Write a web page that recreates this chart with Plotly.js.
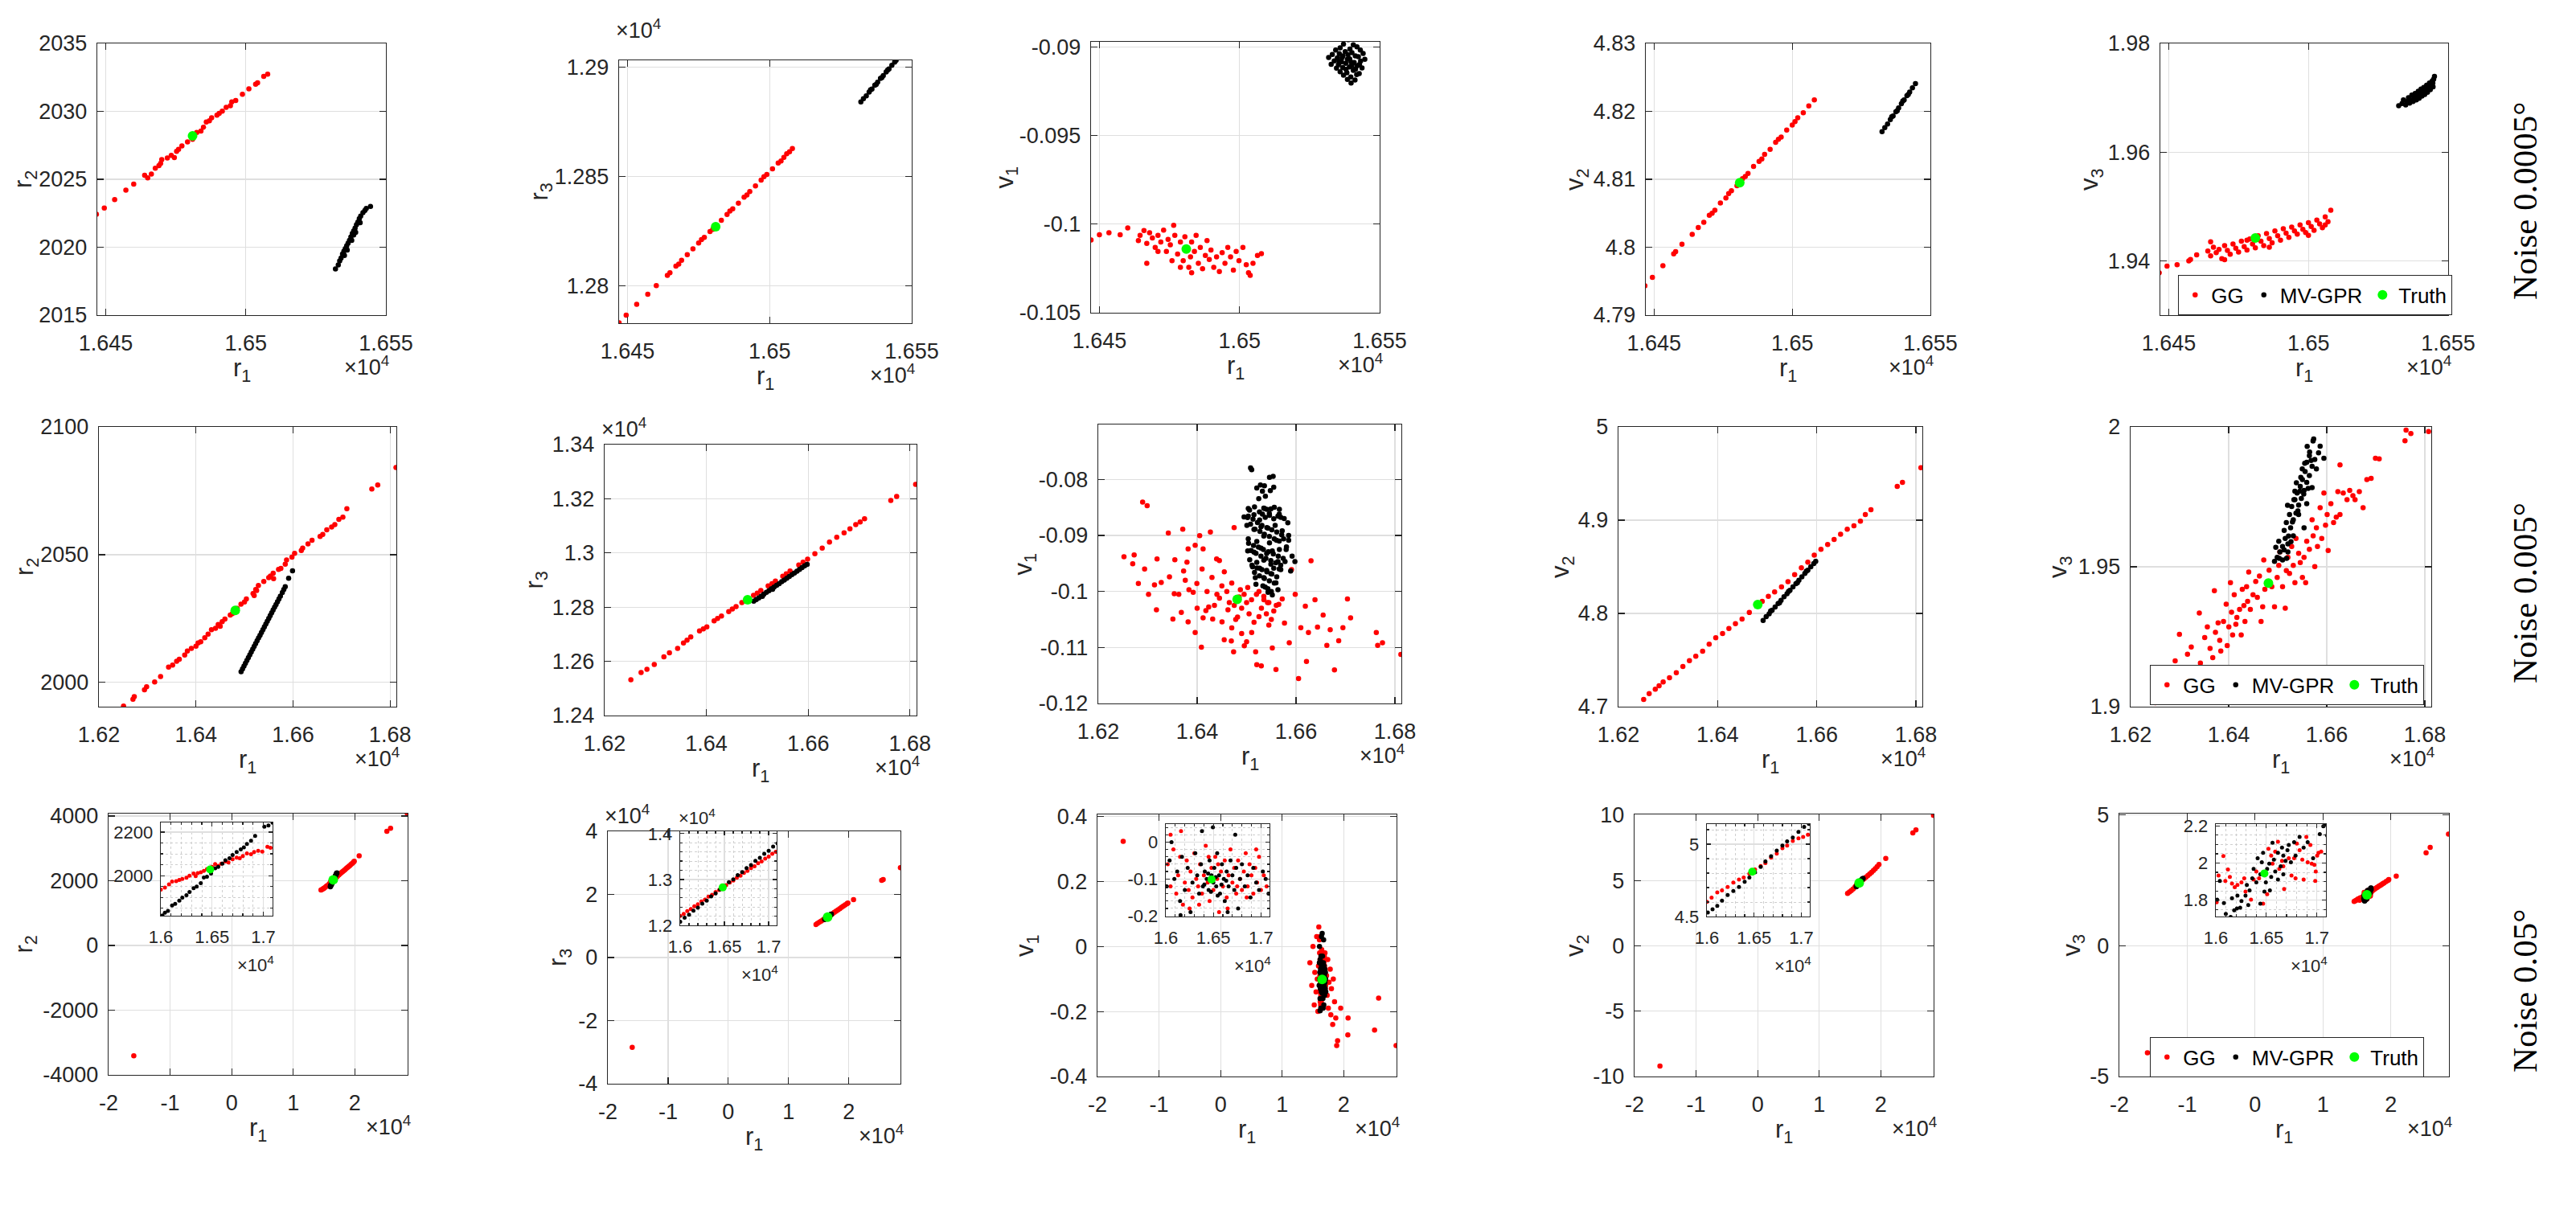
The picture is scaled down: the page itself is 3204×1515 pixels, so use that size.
<!DOCTYPE html>
<html><head><meta charset="utf-8">
<script src="https://cdn.plot.ly/plotly-3.0.1.min.js"></script>
<style>html,body{margin:0;padding:0;background:#fff;}#chart{width:3204px;height:1515px;}</style>
</head><body><div id="chart"></div>
<script>
// ================= DATA =================
const series_names = ['GG', 'MV-GPR', 'Truth'];
const row_labels = ['Noise 0.0005°', 'Noise 0.005°', 'Noise 0.05°'];
const y_titles = ['r<sub>2</sub>', 'r<sub>3</sub>', 'v<sub>1</sub>', 'v<sub>2</sub>', 'v<sub>3</sub>'];
const x_title = 'r<sub>1</sub>';
const exp_label = '×10<sup>4</sup>';

// true state (r1, r3 in units of 1e4)
const truth_r1 = 1.6481, truth_r2 = 2028.2, truth_r3 = 1.2827, truth_v1 = -0.1014, truth_v2 = 4.8095, truth_v3 = 1.9442;

// tick values / labels
const row1_xt = [1.645, 1.65, 1.655], row1_xl = ['1.645', '1.65', '1.655'];
const row2_xt = [1.62, 1.64, 1.66, 1.68], row2_xl = ['1.62', '1.64', '1.66', '1.68'];
const row3_xt = [-2, -1, 0, 1, 2], row3_xl = ['-2', '-1', '0', '1', '2'];
const inset_xt = [1.6, 1.65, 1.7], inset_xl = ['1.6', '1.65', '1.7'];
const p11_yt = [2015, 2020, 2025, 2030, 2035], p11_yl = ['2015', '2020', '2025', '2030', '2035'];
const p12_yt = [1.28, 1.285, 1.29], p12_yl = ['1.28', '1.285', '1.29'];
const p13_yt = [-0.105, -0.1, -0.095, -0.09], p13_yl = ['-0.105', '-0.1', '-0.095', '-0.09'];
const p14_yt = [4.79, 4.8, 4.81, 4.82, 4.83], p14_yl = ['4.79', '4.8', '4.81', '4.82', '4.83'];
const p15_yt = [1.94, 1.96, 1.98], p15_yl = ['1.94', '1.96', '1.98'];
const p21_yt = [2000, 2050, 2100], p21_yl = ['2000', '2050', '2100'];
const p22_yt = [1.24, 1.26, 1.28, 1.3, 1.32, 1.34], p22_yl = ['1.24', '1.26', '1.28', '1.3', '1.32', '1.34'];
const p23_yt = [-0.12, -0.11, -0.1, -0.09, -0.08], p23_yl = ['-0.12', '-0.11', '-0.1', '-0.09', '-0.08'];
const p24_yt = [4.7, 4.8, 4.9, 5], p24_yl = ['4.7', '4.8', '4.9', '5'];
const p25_yt = [1.9, 1.95, 2], p25_yl = ['1.9', '1.95', '2'];
const p31_yt = [-4000, -2000, 0, 2000, 4000], p31_yl = ['-4000', '-2000', '0', '2000', '4000'];
const p32_yt = [-4, -2, 0, 2, 4], p32_yl = ['-4', '-2', '0', '2', '4'];
const p33_yt = [-0.4, -0.2, 0, 0.2, 0.4], p33_yl = ['-0.4', '-0.2', '0', '0.2', '0.4'];
const p34_yt = [-10, -5, 0, 5, 10], p34_yl = ['-10', '-5', '0', '5', '10'];
const p35_yt = [-5, 0, 5], p35_yl = ['-5', '0', '5'];
const i31_yt = [2000, 2200], i31_yl = ['2000', '2200'];
const i32_yt = [1.2, 1.3, 1.4], i32_yl = ['1.2', '1.3', '1.4'];
const i33_yt = [-0.2, -0.1, 0], i33_yl = ['-0.2', '-0.1', '0'];
const i34_yt = [4.5, 5], i34_yl = ['4.5', '5'];
const i35_yt = [1.8, 2, 2.2], i35_yl = ['1.8', '2', '2.2'];

// ---- Row 1 : noise 0.0005 deg ----
const p11_gg = [[1.64467,2022.43],[1.64495,2022.88],[1.64532,2023.51],[1.64572,2024.20],[1.64600,2024.64],[1.64639,2025.29],[1.64663,2025.38],[1.64650,2025.10],[1.64677,2025.82],[1.64696,2026.17],[1.64700,2026.45],[1.64690,2026.00],[1.64720,2026.57],[1.64734,2026.76],[1.64745,2026.60],[1.64753,2027.06],[1.64760,2027.20],[1.64772,2027.45],[1.64792,2027.75],[1.64810,2027.95],[1.64825,2028.44],[1.64840,2028.55],[1.64849,2028.83],[1.64859,2029.22],[1.64870,2029.30],[1.64878,2029.52],[1.64897,2029.72],[1.64905,2029.85],[1.64916,2030.01],[1.64930,2030.30],[1.64945,2030.41],[1.64950,2030.70],[1.64964,2030.80],[1.64988,2031.26],[1.65011,2031.65],[1.65035,2031.99],[1.65042,2032.10],[1.65064,2032.58],[1.65078,2032.73]];
const p11_mv = [[1.65320,2018.40],[1.65330,2018.70],[1.65335,2019.00],[1.65340,2019.20],[1.65345,2019.50],[1.65350,2019.70],[1.65352,2019.40],[1.65355,2019.90],[1.65360,2020.10],[1.65362,2019.80],[1.65365,2020.30],[1.65370,2020.50],[1.65375,2020.75],[1.65378,2020.50],[1.65380,2021.00],[1.65385,2021.20],[1.65385,2020.90],[1.65390,2021.40],[1.65392,2021.10],[1.65395,2021.65],[1.65400,2021.85],[1.65405,2022.10],[1.65408,2021.80],[1.65410,2022.30],[1.65418,2022.55],[1.65425,2022.70],[1.65430,2022.85],[1.65445,2023.00]];

const p12_gg = [[1.64470,1.27832],[1.64495,1.27867],[1.64532,1.27916],[1.64571,1.27962],[1.64601,1.28002],[1.64640,1.28048],[1.64649,1.28060],[1.6467,1.28091],[1.6468,1.28100],[1.6469,1.28117],[1.6471,1.28143],[1.6473,1.28169],[1.6475,1.28196],[1.6476,1.28212],[1.6477,1.28222],[1.6479,1.28248],[1.6480,1.28258],[1.6481,1.28274],[1.6483,1.28300],[1.6485,1.28326],[1.6486,1.28342],[1.6487,1.28352],[1.6489,1.28378],[1.6491,1.28405],[1.6492,1.28415],[1.6493,1.28431],[1.6495,1.28457],[1.6497,1.28483],[1.6498,1.28499],[1.6499,1.28509],[1.6501,1.28535],[1.6503,1.28561],[1.6504,1.28570],[1.6505,1.28587],[1.6506,1.28603],[1.6507,1.28613],[1.6508,1.28627]];
const p12_mv = [[1.65321,1.28840],[1.65330,1.28855],[1.65340,1.28868],[1.65350,1.28885],[1.65355,1.28895],[1.65360,1.28899],[1.65370,1.28916],[1.65375,1.28920],[1.65380,1.28930],[1.65390,1.28947],[1.65395,1.28951],[1.65400,1.28960],[1.65410,1.28977],[1.65415,1.28985],[1.65420,1.28991],[1.65430,1.29007],[1.65440,1.29022],[1.65445,1.29030]];

const p13_gg = [[1.64470,-0.10089],[1.64500,-0.10060],[1.64534,-0.10048],[1.64574,-0.10060],[1.64601,-0.10021],[1.64639,-0.10093],[1.64645,-0.10063],[1.64659,-0.10036],[1.64669,-0.10108],[1.64679,-0.10048],[1.64689,-0.10078],[1.64699,-0.10131],[1.64709,-0.10063],[1.64719,-0.10101],[1.64729,-0.10033],[1.64739,-0.10154],[1.64745,-0.10086],[1.64753,-0.10116],[1.64765,-0.10006],[1.64769,-0.10063],[1.64779,-0.10169],[1.64789,-0.10101],[1.64799,-0.10206],[1.64805,-0.10071],[1.64813,-0.10139],[1.64819,-0.10244],[1.64825,-0.10184],[1.64829,-0.10101],[1.64839,-0.10154],[1.64845,-0.10063],[1.64853,-0.10221],[1.64860,-0.10131],[1.64868,-0.10251],[1.64878,-0.10176],[1.64884,-0.10093],[1.64892,-0.10199],[1.64898,-0.10146],[1.64908,-0.10244],[1.64918,-0.10184],[1.64928,-0.10267],[1.64938,-0.10161],[1.64948,-0.10221],[1.64958,-0.10131],[1.64968,-0.10184],[1.64978,-0.10259],[1.64988,-0.10154],[1.64998,-0.10206],[1.65012,-0.10131],[1.65024,-0.10229],[1.65032,-0.10274],[1.65038,-0.10289],[1.65048,-0.10221],[1.65064,-0.10176],[1.65078,-0.10166],[1.64669,-0.10221],[1.64709,-0.10154],[1.64759,-0.10206],[1.64789,-0.10244],[1.64829,-0.10274]];
const p13_mv = [[1.65388,-0.08958],[1.65371,-0.08983],[1.65406,-0.08987],[1.65359,-0.09004],[1.65394,-0.09011],[1.65419,-0.08998],[1.65343,-0.09016],[1.65377,-0.09026],[1.65401,-0.09031],[1.65431,-0.09017],[1.65331,-0.09041],[1.65356,-0.09037],[1.65387,-0.09043],[1.65413,-0.09049],[1.65441,-0.09036],[1.65318,-0.09058],[1.65349,-0.09061],[1.65369,-0.09049],[1.65393,-0.09066],[1.65424,-0.09054],[1.65447,-0.09069],[1.65338,-0.09078],[1.65364,-0.09083],[1.65385,-0.09069],[1.65409,-0.09087],[1.65432,-0.09079],[1.65327,-0.09097],[1.65353,-0.09099],[1.65379,-0.09092],[1.65401,-0.09105],[1.65428,-0.09098],[1.65346,-0.09119],[1.65368,-0.09115],[1.65392,-0.09112],[1.65414,-0.09124],[1.65437,-0.09118],[1.65359,-0.09139],[1.65383,-0.09145],[1.65406,-0.09131],[1.65427,-0.09149],[1.65371,-0.09158],[1.65397,-0.09169],[1.65418,-0.09155],[1.65385,-0.09182],[1.65412,-0.09186],[1.65398,-0.09203],[1.65366,-0.09060],[1.65398,-0.09085],[1.65380,-0.09125],[1.65420,-0.09105],[1.65355,-0.09080]];

const p14_gg = [[1.64467,4.79433],[1.64494,4.79556],[1.64532,4.79729],[1.64571,4.79902],[1.64578,4.79934],[1.64601,4.80045],[1.64638,4.80190],[1.6466,4.80290],[1.6468,4.80368],[1.6470,4.80470],[1.6471,4.80500],[1.6472,4.80545],[1.6474,4.80650],[1.6476,4.80725],[1.6477,4.80790],[1.6478,4.80830],[1.6480,4.80905],[1.6482,4.81010],[1.6483,4.81040],[1.6484,4.81085],[1.6486,4.81188],[1.6488,4.81262],[1.6489,4.81300],[1.6490,4.81368],[1.6492,4.81440],[1.6494,4.81545],[1.6495,4.81590],[1.6496,4.81620],[1.6498,4.81725],[1.6500,4.81800],[1.6501,4.81850],[1.6502,4.81905],[1.6504,4.81980],[1.6506,4.82080],[1.6508,4.82170]];
const p14_mv = [[1.65325,4.81700],[1.65335,4.81760],[1.65345,4.81815],[1.65355,4.81878],[1.65360,4.81920],[1.65365,4.81932],[1.65375,4.81995],[1.65380,4.82010],[1.65385,4.82050],[1.65395,4.82112],[1.65400,4.82150],[1.65405,4.82168],[1.65415,4.82230],[1.65420,4.82250],[1.65425,4.82285],[1.65435,4.82345],[1.65446,4.82409]];

const p15_gg = [[1.64466,1.93779],[1.64494,1.93902],[1.64530,1.93927],[1.64572,1.94000],[1.64578,1.94025],[1.64600,1.94109],[1.6464,1.9418],[1.6465,1.9409],[1.6465,1.9435],[1.6466,1.9425],[1.6467,1.9415],[1.6468,1.9421],[1.6469,1.9404],[1.6470,1.9428],[1.6470,1.9402],[1.6471,1.9419],[1.6472,1.9412],[1.6473,1.9431],[1.6474,1.9423],[1.6475,1.9416],[1.6476,1.9436],[1.6477,1.9426],[1.6478,1.9420],[1.6478,1.9438],[1.6479,1.9440],[1.6480,1.9431],[1.6481,1.9424],[1.6482,1.9446],[1.6483,1.9436],[1.6484,1.9428],[1.6485,1.9450],[1.6486,1.9441],[1.6486,1.9425],[1.6487,1.9433],[1.6488,1.9455],[1.6489,1.9446],[1.6490,1.9438],[1.6491,1.9459],[1.6492,1.9451],[1.6493,1.9443],[1.6494,1.9462],[1.6495,1.9455],[1.6496,1.9449],[1.6497,1.9466],[1.6498,1.9458],[1.6499,1.9452],[1.6500,1.9470],[1.6500,1.9447],[1.6501,1.9463],[1.6502,1.9456],[1.6503,1.9475],[1.6504,1.9468],[1.6505,1.9461],[1.6506,1.9481],[1.6506,1.9466],[1.6507,1.9472],[1.6508,1.9493]];
const p15_mv = [[1.65323,1.96854],[1.65335,1.96895],[1.65340,1.96960],[1.65348,1.96870],[1.65352,1.96930],[1.65358,1.97000],[1.65360,1.96960],[1.65362,1.96900],[1.65366,1.96960],[1.65370,1.97050],[1.65374,1.96930],[1.65378,1.97000],[1.65380,1.96960],[1.65382,1.97080],[1.65386,1.96960],[1.65390,1.97040],[1.65393,1.97120],[1.65396,1.96990],[1.65398,1.97040],[1.65400,1.97070],[1.65403,1.97160],[1.65406,1.97030],[1.65408,1.97080],[1.65410,1.97110],[1.65413,1.97190],[1.65415,1.97130],[1.65416,1.97060],[1.65420,1.97150],[1.65423,1.97230],[1.65426,1.97100],[1.65428,1.97160],[1.65430,1.97190],[1.65433,1.97270],[1.65436,1.97150],[1.65440,1.97230],[1.65443,1.97310],[1.65445,1.97270],[1.65446,1.97200],[1.65448,1.97340],[1.65451,1.97395]];

// ---- Row 2 : noise 0.005 deg ----
const p21_gg = [[1.62508,1990.7],[1.62702,1993.4],[1.62729,1994.4],[1.62939,1997.1],[1.62983,1998.3],[1.63149,2000.2],[1.63271,2002.3],[1.63436,2006.0],[1.63519,2006.8],[1.63602,2008.3],[1.63657,2009.1],[1.63768,2010.7],[1.63823,2012.3],[1.63906,2013.3],[1.64000,2014.2],[1.64044,2015.4],[1.64099,2015.9],[1.64182,2017.5],[1.64250,2018.9],[1.64320,2020.6],[1.64403,2021.2],[1.64459,2022.7],[1.64500,2022.0],[1.64541,2023.8],[1.64597,2024.8],[1.64707,2026.4],[1.64750,2026.9],[1.64850,2029.0],[1.64928,2030.6],[1.65000,2031.5],[1.65039,2032.7],[1.65177,2034.8],[1.65200,2034.0],[1.65232,2036.4],[1.65250,2036.0],[1.65287,2037.9],[1.65398,2039.5],[1.65500,2041.0],[1.65536,2041.6],[1.65591,2042.7],[1.65600,2040.6],[1.65702,2044.2],[1.65750,2044.6],[1.65840,2046.3],[1.65867,2047.9],[1.65978,2049.0],[1.66033,2050.5],[1.66171,2051.6],[1.66199,2052.6],[1.66309,2054.2],[1.66392,2055.6],[1.66558,2057.1],[1.66613,2057.9],[1.66696,2059.7],[1.66796,2060.8],[1.66862,2061.8],[1.66945,2063.8],[1.67028,2064.7],[1.67110,2068.0],[1.67624,2075.7],[1.67746,2077.3],[1.68122,2084.1]];
const p21_mv = [[1.6493,2004.2],[1.6496,2005.3],[1.6499,2006.4],[1.6502,2007.5],[1.6505,2008.6],[1.6508,2009.7],[1.6511,2010.8],[1.6514,2011.9],[1.6517,2013.0],[1.6520,2014.1],[1.6523,2015.2],[1.6526,2016.3],[1.6529,2017.4],[1.6532,2018.4],[1.6535,2019.5],[1.6538,2020.6],[1.6541,2021.7],[1.6544,2022.8],[1.6547,2023.9],[1.6550,2025.0],[1.6553,2026.1],[1.6556,2027.2],[1.6559,2028.3],[1.6562,2029.4],[1.6565,2030.5],[1.6568,2031.6],[1.6571,2032.7],[1.6574,2033.8],[1.6578,2035.2],[1.6581,2036.4],[1.6584,2037.5],[1.6591,2040.8],[1.6599,2043.7]];

const p22_gg = [[1.62516,1.25320],[1.62717,1.25587],[1.62832,1.25706],[1.62976,1.25885],[1.63165,1.26163],[1.63274,1.26312],[1.63435,1.26480],[1.63550,1.26679],[1.63620,1.26780],[1.63693,1.26897],[1.63865,1.27125],[1.63940,1.27200],[1.64009,1.27274],[1.64152,1.27492],[1.64220,1.27580],[1.64296,1.27671],[1.64439,1.27839],[1.64510,1.27930],[1.64583,1.28018],[1.64697,1.28167],[1.64801,1.28286],[1.64927,1.28435],[1.65000,1.28520],[1.65070,1.28613],[1.65214,1.28782],[1.65290,1.28870],[1.65357,1.28960],[1.65501,1.29139],[1.65570,1.29230],[1.65644,1.29337],[1.65816,1.29556],[1.65900,1.29660],[1.65989,1.29774],[1.66132,1.29972],[1.66276,1.30181],[1.66419,1.30399],[1.66562,1.30577],[1.66706,1.30746],[1.66821,1.30895],[1.66935,1.31044],[1.67022,1.31143],[1.67108,1.31262],[1.67624,1.31937],[1.67739,1.32085],[1.68112,1.32532]];
const p22_mv = [[1.6493,1.2822],[1.6498,1.2828],[1.6503,1.2834],[1.6508,1.2841],[1.6510,1.2840],[1.6513,1.2848],[1.6518,1.2855],[1.6523,1.2861],[1.6528,1.2868],[1.6530,1.2866],[1.6533,1.2874],[1.6538,1.2881],[1.6543,1.2887],[1.6548,1.2894],[1.6553,1.2900],[1.6558,1.2907],[1.6563,1.2913],[1.6568,1.2920],[1.6573,1.2926],[1.6578,1.2933],[1.6583,1.2939],[1.6588,1.2946],[1.6593,1.2953],[1.6598,1.2958]];

const p23_gg = [[1.62520,-0.09380],[1.62726,-0.09347],[1.62697,-0.09505],[1.62811,-0.09859],[1.62897,-0.08406],[1.62989,-0.08468],[1.62937,-0.09601],[1.63017,-0.10050],[1.63137,-0.09883],[1.63177,-0.10327],[1.63189,-0.09419],[1.63274,-0.09840],[1.63417,-0.08956],[1.63440,-0.09739],[1.63509,-0.10494],[1.63537,-0.10040],[1.63549,-0.09433],[1.63629,-0.10050],[1.63680,-0.10375],[1.63709,-0.08889],[1.63726,-0.09634],[1.63760,-0.09801],[1.63794,-0.09476],[1.63817,-0.09242],[1.63817,-0.10542],[1.63834,-0.09969],[1.63920,-0.10016],[1.63960,-0.10733],[1.63960,-0.09175],[1.63994,-0.09859],[1.64000,-0.10300],[1.64051,-0.09003],[1.64086,-0.10996],[1.64100,-0.09600],[1.64120,-0.09242],[1.64120,-0.10470],[1.64177,-0.10341],[1.64200,-0.10000],[1.64234,-0.10279],[1.64268,-0.08941],[1.64300,-0.09750],[1.64314,-0.10494],[1.64350,-0.10250],[1.64394,-0.09419],[1.64400,-0.10050],[1.64450,-0.09450],[1.64451,-0.10121],[1.64500,-0.09900],[1.64503,-0.10542],[1.64548,-0.10862],[1.64550,-0.09650],[1.64600,-0.10000],[1.64623,-0.10327],[1.64650,-0.10200],[1.64691,-0.10885],[1.64700,-0.09850],[1.64700,-0.10650],[1.64737,-0.11077],[1.64748,-0.08860],[1.64750,-0.10250],[1.64780,-0.10500],[1.64817,-0.10456],[1.64850,-0.10100],[1.64874,-0.09969],[1.64900,-0.10300],[1.64900,-0.10750],[1.64950,-0.10050],[1.64954,-0.10972],[1.65000,-0.10200],[1.65000,-0.10900],[1.65023,-0.09930],[1.65050,-0.10400],[1.65100,-0.10150],[1.65103,-0.10733],[1.65150,-0.10550],[1.65183,-0.11077],[1.65200,-0.10050],[1.65206,-0.11306],[1.65250,-0.10450],[1.65250,-0.10000],[1.65297,-0.11330],[1.65300,-0.10300],[1.65348,-0.10088],[1.65350,-0.10150],[1.65400,-0.10400],[1.65423,-0.10198],[1.65450,-0.10200],[1.65450,-0.10600],[1.65500,-0.10500],[1.65520,-0.11010],[1.65550,-0.10350],[1.65594,-0.11392],[1.65600,-0.10250],[1.65651,-0.10231],[1.65720,-0.10136],[1.65766,-0.10566],[1.65863,-0.10915],[1.65908,-0.09610],[1.65983,-0.10050],[1.66051,-0.11555],[1.66097,-0.10647],[1.66188,-0.10265],[1.66211,-0.11249],[1.66251,-0.10733],[1.66303,-0.09453],[1.66383,-0.10150],[1.66434,-0.10638],[1.66548,-0.10422],[1.66623,-0.10962],[1.66691,-0.10685],[1.66777,-0.11402],[1.66863,-0.10881],[1.66948,-0.10647],[1.67040,-0.10136],[1.67103,-0.10470],[1.67623,-0.10733],[1.67651,-0.10962],[1.67748,-0.10915],[1.68120,-0.11125]];
const p23_mv = [[1.65080,-0.07795],[1.65103,-0.07828],[1.65463,-0.07962],[1.65537,-0.07947],[1.65549,-0.08139],[1.65206,-0.08153],[1.65320,-0.08210],[1.65360,-0.08115],[1.65280,-0.08100],[1.65380,-0.08300],[1.65480,-0.08200],[1.65034,-0.08521],[1.65246,-0.08344],[1.65348,-0.08511],[1.65406,-0.08535],[1.65491,-0.08526],[1.65663,-0.08535],[1.6506,-0.0855],[1.6516,-0.0849],[1.6526,-0.0858],[1.6536,-0.0852],[1.6546,-0.0861],[1.6556,-0.0850],[1.6566,-0.0862],[1.6576,-0.0870],[1.64949,-0.08669],[1.65034,-0.08655],[1.65149,-0.08631],[1.65263,-0.08726],[1.65320,-0.08621],[1.65377,-0.08678],[1.65463,-0.08640],[1.65549,-0.08702],[1.65634,-0.08655],[1.65691,-0.08678],[1.65834,-0.08774],[1.6502,-0.0868],[1.6508,-0.0880],[1.6513,-0.0871],[1.6517,-0.0889],[1.6522,-0.0877],[1.6527,-0.0893],[1.6531,-0.0882],[1.6536,-0.0898],[1.6541,-0.0886],[1.6546,-0.0902],[1.6551,-0.0890],[1.6556,-0.0906],[1.6561,-0.0894],[1.6566,-0.0910],[1.6571,-0.0899],[1.65006,-0.08822],[1.65149,-0.08894],[1.65291,-0.08846],[1.65434,-0.08870],[1.65577,-0.08822],[1.65720,-0.08917],[1.65034,-0.09061],[1.65206,-0.09109],[1.65348,-0.09013],[1.65463,-0.09132],[1.65606,-0.09085],[1.65749,-0.09061],[1.65851,-0.09085],[1.6504,-0.0914],[1.6509,-0.0927],[1.6514,-0.0918],[1.6519,-0.0932],[1.6524,-0.0921],[1.6529,-0.0937],[1.6534,-0.0925],[1.6539,-0.0941],[1.6544,-0.0929],[1.6549,-0.0945],[1.6554,-0.0933],[1.6559,-0.0949],[1.6564,-0.0937],[1.6569,-0.0953],[1.6574,-0.0941],[1.6580,-0.0925],[1.6585,-0.0900],[1.65023,-0.09276],[1.65149,-0.09300],[1.65291,-0.09228],[1.65406,-0.09323],[1.65520,-0.09276],[1.65663,-0.09252],[1.65806,-0.09204],[1.65920,-0.09371],[1.65063,-0.09433],[1.65206,-0.09481],[1.65348,-0.09443],[1.65491,-0.09515],[1.65634,-0.09467],[1.65777,-0.09467],[1.65977,-0.09467],[1.65120,-0.09562],[1.65263,-0.09586],[1.65406,-0.09625],[1.65549,-0.09586],[1.65691,-0.09610],[1.6511,-0.0953],[1.6516,-0.0966],[1.6521,-0.0958],[1.6526,-0.0972],[1.6531,-0.0961],[1.6536,-0.0977],[1.6541,-0.0965],[1.6546,-0.0981],[1.6551,-0.0969],[1.6556,-0.0985],[1.6561,-0.0974],[1.6566,-0.0960],[1.65177,-0.09754],[1.65348,-0.09754],[1.65491,-0.09682],[1.65594,-0.09849],[1.65891,-0.09634],[1.65189,-0.09873],[1.65377,-0.09921],[1.65434,-0.10016],[1.65520,-0.10064],[1.65634,-0.09969],[1.6543,-0.0995],[1.6533,-0.0990],[1.6550,-0.1000]];

const p24_gg = [[1.62509,4.70776],[1.62620,4.71400],[1.62743,4.71868],[1.62820,4.72250],[1.62902,4.72644],[1.63030,4.73100],[1.63167,4.73649],[1.63300,4.74300],[1.63432,4.74943],[1.63560,4.75400],[1.63698,4.75948],[1.63830,4.76700],[1.63963,4.77385],[1.64100,4.77850],[1.64228,4.78391],[1.64360,4.78900],[1.64493,4.79397],[1.64640,4.80100],[1.64790,4.80833],[1.64900,4.81300],[1.65024,4.81839],[1.65150,4.82300],[1.65289,4.82845],[1.65420,4.83400],[1.65554,4.84150],[1.65690,4.84900],[1.65820,4.85500],[1.65950,4.86250],[1.66085,4.86868],[1.66220,4.87400],[1.66350,4.87931],[1.66480,4.88500],[1.66615,4.89023],[1.66750,4.89400],[1.66881,4.89885],[1.66980,4.90600],[1.67093,4.91121],[1.67623,4.93621],[1.67729,4.94052],[1.68101,4.95632]];
const p24_mv = [[1.64918,4.79253],[1.64980,4.79650],[1.65040,4.79950],[1.65070,4.80250],[1.65100,4.80350],[1.65160,4.80680],[1.65220,4.81050],[1.65250,4.81150],[1.65280,4.81400],[1.65340,4.81780],[1.65400,4.82120],[1.65430,4.82350],[1.65460,4.82480],[1.65520,4.82850],[1.65580,4.83200],[1.65610,4.83300],[1.65640,4.83560],[1.65700,4.83920],[1.65760,4.84280],[1.65790,4.84520],[1.65820,4.84630],[1.65880,4.84990],[1.65940,4.85350],[1.65979,4.85575]];

const p25_gg = [[1.62504,1.90144],[1.62909,1.91637],[1.62996,1.92584],[1.63160,1.91876],[1.63237,1.92134],[1.63401,1.93350],[1.63423,1.91560],[1.63511,1.92469],[1.63565,1.92852],[1.63620,1.92086],[1.63675,1.91751],[1.63708,1.94144],[1.63730,1.92661],[1.63784,1.92996],[1.63817,1.92374],[1.63839,1.91991],[1.63894,1.93043],[1.63949,1.93665],[1.63970,1.92182],[1.64003,1.92852],[1.64036,1.94431],[1.64058,1.93378],[1.64080,1.92565],[1.64113,1.94000],[1.64146,1.92948],[1.64167,1.93187],[1.64222,1.93474],[1.64255,1.92565],[1.64277,1.94192],[1.64310,1.93617],[1.64332,1.93043],[1.64365,1.94287],[1.64386,1.93761],[1.64408,1.94814],[1.64441,1.93474],[1.64496,1.94000],[1.64551,1.94479],[1.64584,1.93905],[1.64627,1.94670],[1.64660,1.93043],[1.64693,1.93570],[1.64715,1.95244],[1.64737,1.94192],[1.64824,1.94881],[1.64879,1.94287],[1.64934,1.93570],[1.64989,1.94622],[1.65021,1.95053],[1.65043,1.95531],[1.65098,1.94287],[1.65153,1.93522],[1.65175,1.94861],[1.65207,1.95340],[1.65240,1.94766],[1.65284,1.95723],[1.65317,1.95053],[1.65350,1.94431],[1.65372,1.96010],[1.65426,1.95483],[1.65459,1.95149],[1.65503,1.94622],[1.65536,1.95340],[1.65569,1.94431],[1.65591,1.95914],[1.65645,1.95627],[1.65700,1.96680],[1.65722,1.96105],[1.65755,1.95005],[1.65788,1.96392],[1.65810,1.95723],[1.65864,1.97110],[1.65897,1.96010],[1.65941,1.97637],[1.65974,1.96488],[1.66007,1.96871],[1.66028,1.95579],[1.66083,1.97254],[1.66138,1.96584],[1.66193,1.96775],[1.66226,1.97684],[1.66269,1.98641],[1.66269,1.96871],[1.66335,1.97637],[1.66412,1.97397],[1.66467,1.97732],[1.66532,1.97541],[1.66576,1.97397],[1.66663,1.97684],[1.66740,1.97110],[1.66817,1.98115],[1.66904,1.98163],[1.66992,1.98880],[1.67068,1.98861],[1.67594,1.99502],[1.67616,1.99885],[1.67714,1.99761],[1.68075,1.99837]];
const p25_mv = [[1.64934,1.95196],[1.64960,1.95700],[1.64989,1.95340],[1.65030,1.95300],[1.65021,1.95914],[1.65043,1.95531],[1.65098,1.95723],[1.65098,1.95244],[1.65131,1.96297],[1.65130,1.95600],[1.65153,1.96010],[1.65175,1.96584],[1.65180,1.95300],[1.65207,1.95818],[1.65207,1.95531],[1.65200,1.97200],[1.65220,1.96100],[1.65240,1.96871],[1.65262,1.96392],[1.65270,1.95900],[1.65284,1.97158],[1.65300,1.96600],[1.65317,1.96680],[1.65317,1.96105],[1.65330,1.97400],[1.65350,1.97397],[1.65350,1.97700],[1.65372,1.96919],[1.65380,1.98000],[1.65394,1.97637],[1.65410,1.97000],[1.65426,1.97206],[1.65426,1.96871],[1.65450,1.97700],[1.65459,1.97876],[1.65470,1.98200],[1.65481,1.97445],[1.65500,1.98500],[1.65503,1.98115],[1.65530,1.97600],[1.65536,1.97732],[1.65536,1.96392],[1.65550,1.98700],[1.65558,1.98402],[1.65591,1.98019],[1.65591,1.98737],[1.65591,1.97254],[1.65600,1.99300],[1.65620,1.97800],[1.65645,1.98258],[1.65645,1.98976],[1.65650,1.99100],[1.65680,1.98800],[1.65700,1.98593],[1.65700,1.97828],[1.65720,1.99500],[1.65733,1.99569],[1.65755,1.98833],[1.65788,1.98498],[1.65832,1.99072],[1.65864,1.99311],[1.65941,1.98880]];

// ---- Row 3 : noise 0.05 deg ----
const p31_gg = [[-1.59,-3410],[1.45,1715],[1.47,1735],[1.49,1760],[1.50,1770],[1.52,1800],[1.54,1830],[1.55,1845],[1.57,1870],[1.58,1890],[1.59,1905],[1.600,1936],[1.604,1945],[1.608,1960],[1.611,1973],[1.615,1975],[1.618,1980],[1.621,1985],[1.625,1990],[1.628,2000],[1.632,2010],[1.634,1998],[1.636,2012],[1.639,2015],[1.642,2022],[1.645,2030],[1.648,2035],[1.650,2040],[1.653,2053],[1.656,2045],[1.659,2055],[1.663,2065],[1.666,2060],[1.670,2075],[1.674,2083],[1.677,2080],[1.680,2090],[1.684,2102],[1.688,2098],[1.691,2108],[1.695,2114],[1.699,2110],[1.704,2132],[1.707,2128],[1.72,2150],[1.74,2180],[1.76,2215],[1.78,2250],[1.80,2280],[1.82,2310],[1.84,2345],[1.86,2380],[1.88,2410],[1.90,2440],[1.92,2475],[1.94,2510],[1.96,2540],[1.98,2575],[1.99,2600],[2.07,2770],[2.52,3530],[2.58,3620],[2.85,4090]];
const p31_mv = [[1.6016,1817],[1.604,1830],[1.607,1838],[1.611,1863],[1.614,1870],[1.618,1885],[1.621,1899],[1.625,1910],[1.628,1925],[1.632,1942],[1.635,1950],[1.639,1965],[1.642,1991],[1.645,1995],[1.649,2010],[1.653,2034],[1.656,2040],[1.660,2055],[1.663,2071],[1.667,2080],[1.670,2095],[1.674,2108],[1.678,2120],[1.681,2130],[1.684,2145],[1.688,2160],[1.692,2182],[1.701,2225],[1.705,2230],[1.709,2243]];

const p32_gg = [[-1.595,-2.845],[1.455,1.045],[1.48,1.08],[1.51,1.12],[1.54,1.155],[1.57,1.19],[1.59,1.21],[1.600,1.2205],[1.604,1.2250],[1.608,1.2310],[1.612,1.2355],[1.616,1.2415],[1.620,1.2458],[1.624,1.2520],[1.628,1.2560],[1.632,1.2625],[1.636,1.2665],[1.640,1.2728],[1.644,1.2770],[1.648,1.2830],[1.652,1.2874],[1.656,1.2935],[1.660,1.2978],[1.664,1.3040],[1.668,1.3082],[1.672,1.3144],[1.676,1.3186],[1.680,1.3248],[1.684,1.3290],[1.688,1.3352],[1.692,1.3394],[1.696,1.3455],[1.700,1.3498],[1.704,1.3560],[1.708,1.3602],[1.73,1.39],[1.76,1.43],[1.79,1.47],[1.82,1.51],[1.85,1.55],[1.88,1.59],[1.91,1.63],[1.94,1.67],[1.97,1.705],[1.984,1.724],[2.078,1.834],[2.545,2.446],[2.57,2.47],[2.856,2.845]];
const p32_mv = [[1.600,1.2081],[1.605,1.2165],[1.610,1.2230],[1.615,1.2320],[1.620,1.2385],[1.625,1.2475],[1.630,1.2540],[1.635,1.2630],[1.640,1.2695],[1.645,1.2785],[1.650,1.2850],[1.655,1.2940],[1.660,1.3005],[1.665,1.3095],[1.670,1.3160],[1.675,1.3250],[1.680,1.3315],[1.685,1.3405],[1.690,1.3470],[1.695,1.3560],[1.700,1.3625],[1.705,1.3715],[1.710,1.3786]];

const p33_gg = [[-1.582,0.323],[1.45,-0.05],[1.48,-0.12],[1.50,0.00],[1.52,-0.18],[1.53,-0.08],[1.55,-0.14],[1.56,0.03],[1.57,-0.10],[1.58,-0.20],[1.59,-0.06],[1.595,0.06],[1.602,-0.06],[1.605,-0.12],[1.605,0.02],[1.608,-0.02],[1.611,-0.14],[1.613,-0.09],[1.615,-0.04],[1.616,0.03],[1.618,-0.17],[1.620,-0.11],[1.622,-0.05],[1.624,-0.13],[1.625,-0.18],[1.626,-0.08],[1.628,-0.15],[1.630,-0.03],[1.632,-0.10],[1.634,-0.12],[1.635,-0.17],[1.636,-0.06],[1.638,-0.14],[1.640,-0.09],[1.642,-0.01],[1.644,-0.11],[1.645,-0.04],[1.646,-0.16],[1.648,-0.07],[1.650,-0.13],[1.652,-0.04],[1.654,-0.10],[1.655,-0.06],[1.656,-0.19],[1.658,-0.08],[1.660,-0.12],[1.662,-0.05],[1.664,-0.15],[1.665,-0.18],[1.666,-0.09],[1.668,-0.02],[1.670,-0.11],[1.672,-0.07],[1.674,-0.14],[1.675,-0.12],[1.676,-0.05],[1.678,-0.10],[1.680,-0.13],[1.682,-0.08],[1.684,-0.03],[1.685,-0.15],[1.686,-0.12],[1.688,-0.06],[1.690,-0.09],[1.692,-0.14],[1.694,-0.07],[1.695,-0.02],[1.696,-0.11],[1.698,-0.04],[1.700,-0.13],[1.703,-0.09],[1.706,-0.12],[1.72,-0.09],[1.73,-0.15],[1.74,-0.04],[1.75,-0.19],[1.76,-0.11],[1.78,-0.07],[1.79,-0.21],[1.80,-0.13],[1.82,-0.24],[1.83,-0.10],[1.85,-0.17],[1.87,-0.22],[1.885,-0.305],[1.90,-0.29],[1.95,-0.19],[2.07,-0.22],[2.066,-0.272],[2.50,-0.257],[2.566,-0.159],[2.85,-0.305]];
const p33_mv = [[1.601,-0.12],[1.604,-0.05],[1.606,0.00],[1.609,-0.10],[1.612,-0.08],[1.615,-0.16],[1.6155,-0.198],[1.617,-0.04],[1.620,-0.13],[1.623,-0.07],[1.626,-0.19],[1.628,-0.11],[1.631,-0.03],[1.633,-0.09],[1.635,-0.14],[1.637,-0.06],[1.638,0.03],[1.639,-0.12],[1.6405,-0.115],[1.641,-0.08],[1.643,-0.10],[1.6445,-0.085],[1.645,-0.13],[1.646,-0.05],[1.6475,-0.135],[1.648,-0.09],[1.6495,0.04],[1.650,-0.11],[1.651,-0.07],[1.6525,-0.095],[1.653,-0.12],[1.654,-0.03],[1.6545,-0.145],[1.656,-0.09],[1.657,-0.14],[1.6585,-0.115],[1.659,-0.06],[1.661,-0.10],[1.662,-0.16],[1.6635,-0.105],[1.664,-0.08],[1.665,-0.19],[1.666,-0.12],[1.668,-0.05],[1.670,-0.09],[1.672,-0.13],[1.673,0.02],[1.674,-0.07],[1.676,-0.18],[1.678,-0.10],[1.680,-0.06],[1.683,-0.12],[1.686,-0.09],[1.689,-0.15],[1.692,-0.07],[1.695,-0.11],[1.698,-0.13],[1.702,-0.08],[1.705,-0.10],[1.708,-0.14]];

const p34_gg = [[-1.587,-9.20],[1.46,4.01],[1.49,4.12],[1.52,4.23],[1.55,4.35],[1.58,4.48],[1.59,4.53],[1.600,4.602],[1.605,4.630],[1.611,4.667],[1.616,4.680],[1.622,4.704],[1.628,4.735],[1.634,4.756],[1.639,4.770],[1.645,4.796],[1.651,4.825],[1.657,4.848],[1.662,4.870],[1.668,4.907],[1.674,4.935],[1.680,4.972],[1.685,4.990],[1.691,5.022],[1.697,5.040],[1.702,5.050],[1.707,5.065],[1.73,5.14],[1.76,5.25],[1.79,5.37],[1.82,5.50],[1.85,5.62],[1.88,5.76],[1.91,5.90],[1.94,6.05],[1.97,6.22],[2.08,6.69],[2.52,8.63],[2.57,8.87],[2.856,9.98]];
const p34_mv = [[1.601,4.528],[1.606,4.550],[1.611,4.574],[1.616,4.610],[1.622,4.648],[1.628,4.676],[1.634,4.704],[1.640,4.740],[1.645,4.769],[1.651,4.805],[1.657,4.843],[1.662,4.880],[1.668,4.917],[1.674,4.955],[1.680,4.991],[1.685,5.020],[1.691,5.046],[1.697,5.085],[1.703,5.120],[1.708,5.140],[1.711,5.148]];

const p35_gg = [[-1.586,-4.09],[1.46,1.69],[1.48,1.72],[1.50,1.75],[1.52,1.79],[1.54,1.74],[1.55,1.83],[1.57,1.80],[1.58,1.86],[1.59,1.78],[1.6008,1.7885],[1.6027,1.9324],[1.6075,2.0374],[1.6094,1.9036],[1.6120,1.9655],[1.6139,1.9252],[1.6160,1.8892],[1.6187,1.8705],[1.6214,1.8820],[1.6254,1.8964],[1.6281,1.9180],[1.6294,1.8460],[1.6348,1.8029],[1.6374,1.9108],[1.6401,1.9540],[1.6428,1.9180],[1.6468,1.7813],[1.6508,1.8317],[1.6521,2.0763],[1.6548,2.0403],[1.6561,1.9971],[1.6588,2.0619],[1.6615,2.1151],[1.6628,1.9683],[1.6655,2.0115],[1.6668,1.9827],[1.6676,1.8604],[1.6722,2.0259],[1.6749,1.9324],[1.6775,2.0259],[1.6789,1.9180],[1.6802,2.1050],[1.6829,2.0691],[1.6856,2.0187],[1.6869,1.9108],[1.6896,2.1410],[1.6909,2.0043],[1.6936,2.0978],[1.6949,1.9971],[1.6976,1.9899],[1.6984,1.9036],[1.6989,1.9540],[1.7003,2.0403],[1.7016,2.0547],[1.7043,2.0619],[1.72,2.08],[1.74,2.12],[1.76,2.16],[1.78,2.20],[1.80,2.23],[1.82,2.27],[1.84,2.30],[1.86,2.33],[1.88,2.37],[1.90,2.40],[1.93,2.45],[1.96,2.50],[1.97,2.53],[2.08,2.66],[2.52,3.55],[2.58,3.76],[2.85,4.27]];
const p35_mv = [[1.6013,1.8029],[1.6040,1.9036],[1.6080,1.7842],[1.6099,1.7266],[1.6147,1.7094],[1.6160,1.8101],[1.6182,1.7453],[1.6209,1.7554],[1.6214,1.8245],[1.6241,1.7597],[1.6254,1.7957],[1.6294,1.8245],[1.6307,1.8820],[1.6321,1.7741],[1.6334,1.8532],[1.6361,1.9180],[1.6374,1.9683],[1.6401,1.8964],[1.6414,2.0259],[1.6441,1.9396],[1.6441,1.7813],[1.6455,2.0043],[1.6468,2.0547],[1.6481,1.8460],[1.6495,1.8964],[1.6508,1.9683],[1.6529,1.9971],[1.6535,1.8532],[1.6548,1.9252],[1.6561,2.1094],[1.6575,2.0187],[1.6588,1.9540],[1.6615,2.0547],[1.6615,1.9108],[1.6642,1.9827],[1.6655,2.0835],[1.6668,2.0403],[1.6668,1.9396],[1.6690,2.0115],[1.6709,2.0691],[1.6722,2.0978],[1.6743,2.0043],[1.6775,2.1122],[1.6789,2.0403],[1.6829,2.1410],[1.6869,2.0835],[1.6909,2.1122],[1.6963,2.0259],[1.7029,2.1554],[1.7064,2.1986],[1.7083,2.2058],[1.7102,2.1482]];

// ================= LAYOUT / DRAWING =================
const W = 3204, H = 1515;
const FONT = '"Liberation Sans", Arial, Helvetica, sans-serif';
const SERIF = '"Liberation Serif", "Times New Roman", serif';
const C_GG = '#ff0000', C_MV = '#000000', C_T = '#00ff00', C_AX = '#262626';

// panel boxes in pixels: [left, right, top, bottom]
const panels = [
  {gg:p11_gg, mv:p11_mv, ty:truth_r2, box:[121,480,54,392],    xr:[1.6447,1.6550], yr:[2015,2035],      xt:row1_xt, xl:row1_xl, yt:p11_yt, yl:p11_yl, yi:0, yoff:90},
  {gg:p12_gg, mv:p12_mv, ty:truth_r3, box:[770,1134,75,402],   xr:[1.6447,1.6550], yr:[1.2783,1.2903],  xt:row1_xt, xl:row1_xl, yt:p12_yt, yl:p12_yl, yi:1, yoff:98, yexp:true, yexpUp:18},
  {gg:p13_gg, mv:p13_mv, ty:truth_v1, box:[1357,1716,52,389],  xr:[1.6447,1.6550], yr:[-0.105,-0.0897], xt:row1_xt, xl:row1_xl, yt:p13_yt, yl:p13_yl, yi:2, yoff:106},
  {gg:p14_gg, mv:p14_mv, ty:truth_v2, box:[2047,2401,54,392],  xr:[1.6447,1.6550], yr:[4.79,4.83],      xt:row1_xt, xl:row1_xl, yt:p14_yt, yl:p14_yl, yi:3, yoff:86},
  {gg:p15_gg, mv:p15_mv, ty:truth_v3, box:[2687,3045,54,392],  xr:[1.6447,1.6550], yr:[1.930,1.980],    xt:row1_xt, xl:row1_xl, yt:p15_yt, yl:p15_yl, yi:4, yoff:86, legend:{name:'legend', x:2709, y:342}},
  {gg:p21_gg, mv:p21_mv, ty:truth_r2, box:[123,493,531,879],   xr:[1.62,1.6813],   yr:[1990.5,2100],    xt:row2_xt, xl:row2_xl, yt:p21_yt, yl:p21_yl, yi:0, yoff:90},
  {gg:p22_gg, mv:p22_mv, ty:truth_r3, box:[752,1140,553,890],  xr:[1.62,1.6813],   yr:[1.24,1.34],      xt:row2_xt, xl:row2_xl, yt:p22_yt, yl:p22_yl, yi:1, yoff:86, yexp:true, yexpUp:0},
  {gg:p23_gg, mv:p23_mv, ty:truth_v1, box:[1366,1743,528,875], xr:[1.62,1.6813],   yr:[-0.12,-0.0702],  xt:row2_xt, xl:row2_xl, yt:p23_yt, yl:p23_yl, yi:2, yoff:92},
  {gg:p24_gg, mv:p24_mv, ty:truth_v2, box:[2013,2391,531,879], xr:[1.62,1.6813],   yr:[4.7,5.0],        xt:row2_xt, xl:row2_xl, yt:p24_yt, yl:p24_yl, yi:3, yoff:70},
  {gg:p25_gg, mv:p25_mv, ty:truth_v3, box:[2650,3024,531,879], xr:[1.62,1.6813],   yr:[1.9,2.0],        xt:row2_xt, xl:row2_xl, yt:p25_yt, yl:p25_yl, yi:4, yoff:88, legend:{name:'legend2', x:2674, y:827}},
  {gg:p31_gg, mv:p31_mv, ty:truth_r2, box:[135,507,1012,1337],  xr:[-2,2.857], yr:[-4000,4075], xt:row3_xt, xl:row3_xl, yt:p31_yt, yl:p31_yl, yi:0, yoff:104},
  {gg:p32_gg, mv:p32_mv, ty:truth_r3, box:[756,1120,1034,1348], xr:[-2,2.857], yr:[-4,4],       xt:row3_xt, xl:row3_xl, yt:p32_yt, yl:p32_yl, yi:1, yoff:60, yexp:true, yexpUp:0},
  {gg:p33_gg, mv:p33_mv, ty:truth_v1, box:[1365,1737,1013,1339],xr:[-2,2.857], yr:[-0.4,0.406], xt:row3_xt, xl:row3_xl, yt:p33_yt, yl:p33_yl, yi:2, yoff:88},
  {gg:p34_gg, mv:p34_mv, ty:truth_v2, box:[2033,2405,1013,1339],xr:[-2,2.857], yr:[-10,10.05],  xt:row3_xt, xl:row3_xl, yt:p34_yt, yl:p34_yl, yi:3, yoff:72},
  {gg:p35_gg, mv:p35_mv, ty:truth_v3, box:[2636,3046,1012,1339],xr:[-2,2.857], yr:[-5,5.05],    xt:row3_xt, xl:row3_xl, yt:p35_yt, yl:p35_yl, yi:4, yoff:58, legend:{name:'legend3', x:2674, y:1290}}
];
const insets = [
  {parent:10, box:[200,339,1023,1139],  yr:[1816,2244],    yt:i31_yt, yl:i31_yl, ydt:50},
  {parent:11, box:[846,966,1034,1151],  yr:[1.2,1.405],    yt:i32_yt, yl:i32_yl, ydt:0.02, yexp:true},
  {parent:12, box:[1450,1579,1025,1140],yr:[-0.202,0.049], yt:i33_yt, yl:i33_yl, ydt:0.02},
  {parent:13, box:[2123,2251,1025,1140],yr:[4.5,5.139],    yt:i34_yt, yl:i34_yl, ydt:0.1},
  {parent:14, box:[2756,2893,1025,1140],yr:[1.712,2.21],   yt:i35_yt, yl:i35_yl, ydt:0.05}
];
const row_label_y = [250, 738, 1232];
const row_label_x = 3140;

function axBase(fs, tl) {
  return {showline:true, linecolor:C_AX, linewidth:1.3, mirror:'ticks', ticks:'inside', ticklen:tl, tickwidth:1.2,
    tickcolor:C_AX, showgrid:true, gridcolor:'#dfdfdf', gridwidth:1.2, zeroline:false, tickmode:'array',
    tickfont:{family:FONT, size:fs, color:C_AX}, fixedrange:true};
}
const traces = [], annotations = [], layout = {
  width:W, height:H, margin:{l:0,r:0,t:0,b:0}, paper_bgcolor:'#ffffff', plot_bgcolor:'rgba(255,255,255,1)',
  showlegend:true, annotations:annotations, font:{family:FONT, color:C_AX}
};
function ann(text, x, y, xa, ya, size, opts) {
  annotations.push(Object.assign({text:text, x:x/W, y:1-y/H, xref:'paper', yref:'paper', xanchor:xa, yanchor:ya,
    showarrow:false, font:{family:FONT, size:size, color:C_AX}}, opts||{}));
}
function xy(arr, k) { return arr.map(p => p[k]); }
function addTraces(p, n, small, legend) {
  const xa = n === 1 ? 'x' : 'x' + n, ya = n === 1 ? 'y' : 'y' + n;
  const ms = small ? 5 : 6.5, mt = small ? 10 : 12;
  const lg = legend ? legend.name : 'legend', show = !!legend;
  traces.push({type:'scatter', mode:'markers', x:xy(p.gg,0), y:xy(p.gg,1), xaxis:xa, yaxis:ya, name:series_names[0],
    marker:{color:C_GG, size:ms}, showlegend:show, legend:lg, hoverinfo:'skip'});
  traces.push({type:'scatter', mode:'markers', x:xy(p.mv,0), y:xy(p.mv,1), xaxis:xa, yaxis:ya, name:series_names[1],
    marker:{color:C_MV, size:ms}, showlegend:show, legend:lg, hoverinfo:'skip'});
  traces.push({type:'scatter', mode:'markers', x:[truth_r1], y:[p.ty], xaxis:xa, yaxis:ya, name:series_names[2],
    marker:{color:C_T, size:mt}, showlegend:show, legend:lg, hoverinfo:'skip'});
}

panels.forEach((p, i) => {
  const n = i + 1, [l, r, t, b] = p.box;
  const xk = n === 1 ? 'xaxis' : 'xaxis' + n, yk = n === 1 ? 'yaxis' : 'yaxis' + n;
  layout[xk] = Object.assign(axBase(27, 8), {domain:[l/W, r/W], anchor: n === 1 ? 'y' : 'y' + n, range:p.xr,
    tickvals:p.xt, ticktext:p.xl, ticklabelstandoff:10});
  layout[yk] = Object.assign(axBase(27, 8), {domain:[1-b/H, 1-t/H], anchor: n === 1 ? 'x' : 'x' + n, range:p.yr,
    tickvals:p.yt, ticktext:p.yl, ticklabelstandoff:6});
  addTraces(p, n, false, p.legend);
  ann(x_title, (l + r) / 2, b + 46, 'center', 'top', 31);
  ann(exp_label, r + 6, b + 44, 'right', 'top', 27);
  ann(y_titles[p.yi], l - p.yoff, (t + b) / 2, 'center', 'middle', 31, {textangle:-90});
  if (p.yexp) ann(exp_label, l - 6, t - 2 - p.yexpUp, 'left', 'bottom', 27);
  if (p.legend) {
    layout[p.legend.name] = {x:p.legend.x/W, y:1-p.legend.y/H, xanchor:'left', yanchor:'top', orientation:'h',
      bgcolor:'#ffffff', bordercolor:C_AX, borderwidth:1.3, font:{family:FONT, size:26, color:'#000'},
      itemsizing:'trace', traceorder:'normal', tracegroupgap:0, itemwidth:30};
  }
});

insets.forEach((s, j) => {
  const n = 16 + j, p = panels[s.parent], [l, r, t, b] = s.box;
  layout['xaxis' + n] = Object.assign(axBase(22, 5), {domain:[l/W, r/W], anchor:'y' + n, range:[1.6, 1.709],
    tickvals:inset_xt, ticktext:inset_xl, ticklabelstandoff:6,
    minor:{tickmode:'linear', tick0:1.6, dtick:0.01, ticks:'inside', ticklen:3, tickcolor:C_AX,
      showgrid:true, gridcolor:'#cfcfcf', griddash:'dot', gridwidth:1}});
  layout['yaxis' + n] = Object.assign(axBase(22, 5), {domain:[1-b/H, 1-t/H], anchor:'x' + n, range:s.yr,
    tickvals:s.yt, ticktext:s.yl, ticklabelstandoff:4,
    minor:{tickmode:'linear', tick0:s.yt[0], dtick:s.ydt, ticks:'inside', ticklen:3, tickcolor:C_AX,
      showgrid:true, gridcolor:'#cfcfcf', griddash:'dot', gridwidth:1}});
  addTraces(p, n, true, null);
  ann(exp_label, r + 4, b + 44, 'right', 'top', 22);
  if (s.yexp) ann(exp_label, l - 4, t - 2, 'left', 'bottom', 22);
});

row_labels.forEach((txt, k) => {
  ann(txt, row_label_x, row_label_y[k], 'center', 'middle', 43,
    {textangle:-90, font:{family:SERIF, size:43, color:'#000000'}});
});

Plotly.newPlot('chart', traces, layout, {staticPlot:true, displayModeBar:false});
</script>
</body></html>
